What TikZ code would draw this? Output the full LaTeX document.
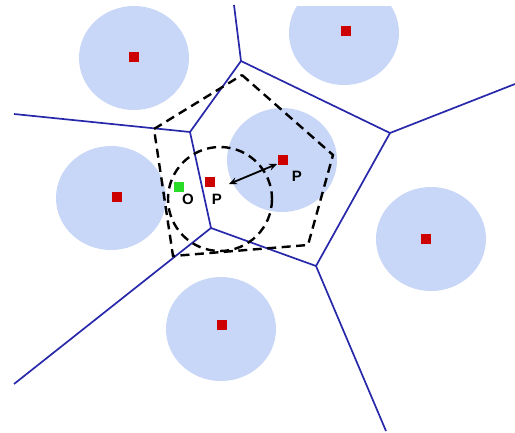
\documentclass[tikz,border=0pt]{standalone}
\usepackage{fontspec}
\setmainfont{Liberation Sans}
\usetikzlibrary{arrows.meta}
\definecolor{disk}{RGB}{200,215,247}
\definecolor{site}{RGB}{205,0,0}
\definecolor{vor}{RGB}{40,40,170}
\definecolor{orig}{RGB}{40,220,40}
\tikzset{
  diskfill/.style={fill=disk, draw=none},
  sitebox/.style={rectangle, fill=site, draw=none, minimum size=10.5pt, inner sep=0pt},
  origbox/.style={rectangle, fill=orig, draw=none, minimum size=10.5pt, inner sep=0pt},
  voredge/.style={draw=vor, line width=1.7pt},
  dashpoly/.style={draw=black, line width=2.4pt, dash pattern=on 9pt off 5.5pt, line join=miter},
  lbl/.style={font=\bfseries\fontsize{15}{15}\selectfont, inner sep=0pt}
}
\begin{document}
\begin{tikzpicture}[x=1pt,y=-1pt]
\useasboundingbox (0,0) rectangle (515,432);
\fill[white] (0,0) rectangle (515,432);
% disks
\begin{scope}
\clip (0,6) rectangle (515,432);
\fill[diskfill] (134,58) ellipse [x radius=55, y radius=52];
\fill[diskfill] (344,33) ellipse [x radius=55, y radius=52];
\fill[diskfill] (111,198) ellipse [x radius=55, y radius=52];
\fill[diskfill] (282,160) ellipse [x radius=55, y radius=52];
\fill[diskfill] (431,239) ellipse [x radius=55, y radius=52];
\fill[diskfill] (221,329) ellipse [x radius=55, y radius=52];
\end{scope}
% Voronoi vertices and free ends
\coordinate (v1) at (241,61);
\coordinate (v2) at (390,133);
\coordinate (v3) at (190,132);
\coordinate (v4) at (211,228);
\coordinate (v5) at (316,266);
\coordinate (e1) at (234,5);
\coordinate (e2) at (515,84);
\coordinate (e3) at (14,114);
\coordinate (e4) at (14,384);
\coordinate (e5) at (386,431);
\draw[voredge] (e1) -- (v1) -- (v2) -- (e2);
\draw[voredge] (e3) -- (v3) -- (v1);
\draw[voredge] (v3) -- (v4) -- (e4);
\draw[voredge] (v4) -- (v5) -- (v2);
\draw[voredge] (v5) -- (e5);
% dashed pentagon
\coordinate (d1) at (242,75);
\coordinate (d2) at (333,155);
\coordinate (d3) at (308,245);
\coordinate (d4) at (173,256);
\coordinate (d5) at (154,129);
\draw[dashpoly] (d1) -- (d2) -- (d3) -- (d4) -- (d5) -- cycle;
% dashed circle
\draw[dashpoly] (220,199) circle [radius=52];
% sites
\node[sitebox] (s1) at (134,57) {};
\node[sitebox] (s2) at (346,31) {};
\node[sitebox] (s3) at (117,197) {};
\node[sitebox] (pl) at (210,182) {};
\node[sitebox] (pu) at (283,160) {};
\node[sitebox] (s6) at (426,239) {};
\node[sitebox] (s7) at (222,325) {};
\node[origbox] (o) at (179,187) {};
% labels
\node[lbl] (lo) at (188,199) {O};
\node[lbl] (lpl) at (217,199) {P};
\node[lbl] (lpu) at (297,176) {P};
% arrow
\coordinate (a1) at (229,184);
\coordinate (a2) at (277,164);
\draw[line width=1.8pt, {Stealth[length=8pt,width=7pt]}-{Stealth[length=8pt,width=7pt]}] (a1) -- (a2);
\end{tikzpicture}
\end{document}
